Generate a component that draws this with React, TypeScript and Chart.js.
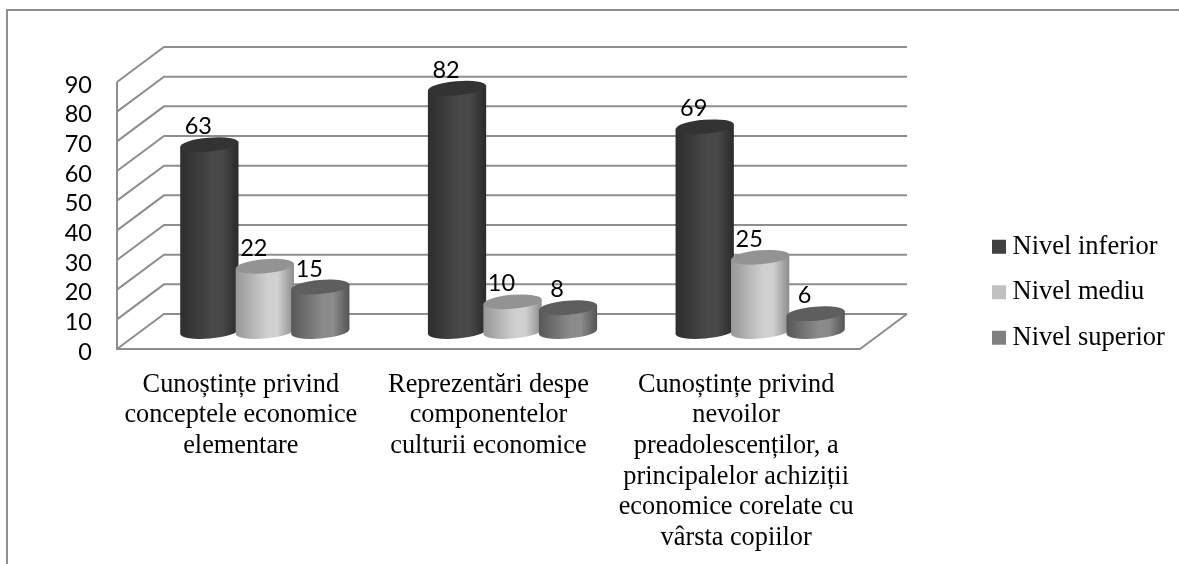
import React, { useEffect, useRef } from "react";
import { Chart, registerables } from "chart.js";

Chart.register(...registerables);

const categories: string[][] = [
  ["Cunoștințe privind", "conceptele economice", "elementare"],
  ["Reprezentări despe", "componentelor", "culturii economice"],
  ["Cunoștințe privind", "nevoilor", "preadolescenților, a", "principalelor achiziții", "economice corelate cu", "vârsta copiilor"],
];
const nivelInferior = [63, 82, 69];
const nivelMediu = [22, 10, 25];
const nivelSuperior = [15, 8, 6];
const seriesNames = ["Nivel inferior", "Nivel mediu", "Nivel superior"];
const legendColors = ["#404040", "#c0c0c0", "#808080"];
const cylinderShades = [
  { edgeL: "#2e2e2e", mid: "#484848", edgeR: "#2a2a2a", top: "#333333" },
  { edgeL: "#979797", mid: "#d0d0d0", edgeR: "#8c8c8c", top: "#939393" },
  { edgeL: "#575757", mid: "#8b8b8b", edgeR: "#545454", top: "#5e5e5e" },
];

const DEPTH_X = 47;
const DEPTH_Y = 35;
const RY = 7;
const TILT = -0.085;
const SERIF = '"Liberation Serif", "Times New Roman", serif';
const SANS = 'Lato, "Open Sans", sans-serif';

const scene3d = {
  id: "scene3d",
  afterLayout(chart: any) {
    const l = chart.legend;
    if (l) {
      l.left = 979.75;
      l.right = 1179;
      l.top = 201;
      l.bottom = 383.5;
    }
  },
  beforeDatasetsDraw(chart: any) {
    const { ctx, chartArea, scales } = chart;
    const yS = scales.y;
    const left = chartArea.left;
    const right = chartArea.right;
    ctx.save();
    // walls and floor
    ctx.strokeStyle = "#8e8e8e";
    ctx.lineWidth = 2;
    yS.ticks.forEach((t: any) => {
      const y = yS.getPixelForValue(t.value);
      ctx.beginPath();
      ctx.moveTo(left, y);
      ctx.lineTo(left + DEPTH_X, y - DEPTH_Y);
      ctx.lineTo(right + DEPTH_X, y - DEPTH_Y);
      ctx.stroke();
    });
    const y0 = yS.getPixelForValue(0);
    const yMax = yS.getPixelForValue(yS.max);
    ctx.beginPath();
    ctx.moveTo(left, yMax);
    ctx.lineTo(left, y0);
    ctx.lineTo(right, y0);
    ctx.lineTo(right + DEPTH_X, y0 - DEPTH_Y);
    ctx.stroke();

    // cylinders
    const n = chart.data.labels.length;
    for (let j = 0; j < n; j++) {
      chart.data.datasets.forEach((_: any, i: number) => {
        const bar = chart.getDatasetMeta(i).data[j] as any;
        const cx = bar.x + DEPTH_X / 2 + 0.5;
        const rx = bar.width / 2 + 1.5;
        const top = bar.y - DEPTH_Y / 2;
        const bottom = bar.base - DEPTH_Y / 2;
        const shade = cylinderShades[i];
        const ox = rx * Math.cos(TILT);
        const oy = rx * Math.sin(TILT);
        const g = ctx.createLinearGradient(cx - rx, 0, cx + rx, 0);
        g.addColorStop(0, shade.edgeL);
        g.addColorStop(0.55, shade.mid);
        g.addColorStop(0.72, shade.mid);
        g.addColorStop(1, shade.edgeR);
        ctx.beginPath();
        ctx.moveTo(cx + ox, top + oy);
        ctx.lineTo(cx + ox, bottom + oy);
        ctx.ellipse(cx, bottom, rx, RY, TILT, 0, Math.PI);
        ctx.lineTo(cx - ox, top - oy);
        ctx.closePath();
        ctx.fillStyle = g;
        ctx.fill();
        ctx.beginPath();
        ctx.ellipse(cx, top, rx, RY, TILT, 0, Math.PI * 2);
        ctx.fillStyle = shade.top;
        ctx.fill();
      });
    }

    // value labels
    ctx.fillStyle = "#000000";
    ctx.font = `23.5px ${SANS}`;
    ctx.textAlign = "center";
    ctx.textBaseline = "middle";
    chart.data.datasets.forEach((ds: any, i: number) => {
      chart.getDatasetMeta(i).data.forEach((bar: any, j: number) => {
        ctx.fillText(String(ds.data[j]), bar.x + DEPTH_X / 2 - 10.5, bar.y - DEPTH_Y / 2 - 18);
      });
    });
    ctx.restore();
    return false;
  },
};

export default function App() {
  const ref = useRef<HTMLCanvasElement | null>(null);
  useEffect(() => {
    if (!ref.current) return;
    const data = [nivelInferior, nivelMediu, nivelSuperior];
    const chart = new Chart(ref.current, {
      type: "bar",
      data: {
        labels: categories as any,
        datasets: seriesNames.map((label, i) => ({
          label,
          data: data[i],
          backgroundColor: legendColors[i],
          borderWidth: 0,
          categoryPercentage: 0.672,
          barPercentage: 1,
        })),
      },
      options: {
        responsive: false,
        animation: false,
        layout: { padding: { left: 0, top: 82, right: 169, bottom: 0 } },
        plugins: {
          tooltip: { enabled: false },
          title: { display: false },
          legend: {
            position: "right",
            maxWidth: 150,
            labels: {
              boxWidth: 0.5,
              boxHeight: 14,
              usePointStyle: true,
              pointStyle: "rect",
              padding: 19,
              color: "#000000",
              font: { family: SERIF, size: 26.5 },
            },
          },
        },
        scales: {
          x: {
            grid: { display: false },
            border: { display: false },
            afterFit: (s: any) => { s.height = 215; },
            ticks: {
              color: "#000000",
              maxRotation: 0,
              autoSkip: false,
              padding: 12.5,
              font: { family: SERIF, size: 26.3, lineHeight: 1.165 },
            },
          },
          y: {
            min: 0,
            max: 90,
            grid: { display: false },
            border: { display: false },
            afterFit: (s: any) => { s.width = 117; },
            ticks: {
              stepSize: 10,
              autoSkip: false,
              color: "#000000",
              padding: 17,
              labelOffset: 3,
              font: { family: SANS, size: 23.5 },
            },
          },
        },
      },
      plugins: [scene3d],
    } as any);
    return () => chart.destroy();
  }, []);
  return (
    <div style={{ position: "absolute", left: 0, top: 0, width: 1179, height: 564, overflow: "hidden", background: "#fff" }}>
      <canvas ref={ref} width={1179} height={564} style={{ display: "block", position: "absolute", left: 0, top: 0 }} />
      <div style={{ position: "absolute", left: 6, top: 9, right: 0, bottom: 0, borderLeft: "2px solid #8e8e8e", borderTop: "2px solid #8e8e8e" }} />
    </div>
  );
}
